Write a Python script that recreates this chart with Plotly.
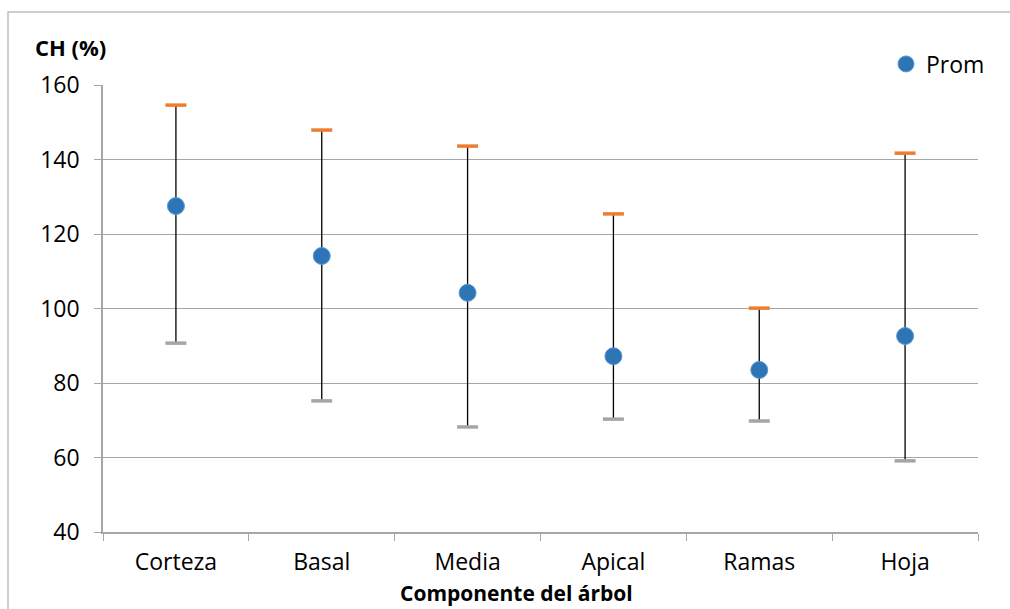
import plotly.graph_objects as go

categories = ["Corteza", "Basal", "Media", "Apical", "Ramas", "Hoja"]
prom = [127.5, 114.1, 104.2, 87.2, 83.5, 92.6]
maximo = [154.6, 147.9, 143.6, 125.4, 100.1, 141.7]
minimo = [90.7, 75.2, 68.2, 70.3, 69.8, 59.1]
y_ticks = [40, 60, 80, 100, 120, 140, 160]

FONT = "Open Sans"

fig = go.Figure()

# vertical range lines
lx, ly = [], []
for c, lo, hi in zip(categories, minimo, maximo):
    lx += [c, c, None]
    ly += [lo, hi, None]
fig.add_trace(go.Scatter(x=lx, y=ly, mode="lines", line=dict(color="black", width=1.3),
                         showlegend=False, hoverinfo="skip"))
fig.add_trace(go.Scatter(x=categories, y=maximo, mode="markers", showlegend=False,
                         marker=dict(symbol="line-ew", size=15, line=dict(color="#ED7D31", width=3.5))))
fig.add_trace(go.Scatter(x=categories, y=minimo, mode="markers", showlegend=False,
                         marker=dict(symbol="line-ew", size=15, line=dict(color="#A5A5A5", width=3.5))))
fig.add_trace(go.Scatter(x=categories, y=prom, mode="markers", name="Prom",
                         marker=dict(symbol="circle", size=17, color="#2E75B6",
                                     line=dict(color="#5B9BD5", width=1))))

L, R, T, B = 103, 32, 85, 77
W, H = 1010, 609
pw, ph = W - L - R, H - T - B

fig.update_layout(
    width=W, height=H,
    margin=dict(l=L, r=R, t=T, b=B),
    paper_bgcolor="white", plot_bgcolor="white",
    font=dict(family=FONT, size=23, color="black"),
    legend=dict(x=(886 - L) / pw, y=1 + (T - 64) / ph, xanchor="left", yanchor="middle",
                font=dict(size=23), bgcolor="rgba(0,0,0,0)", itemwidth=30,
                tracegroupgap=0),
    xaxis=dict(type="category", categoryorder="array", categoryarray=categories,
               range=[-0.5, 5.5], showgrid=False, showline=True, linecolor="#A6A6A6",
               linewidth=1.5, ticks="outside", tickson="boundaries", ticklen=7,
               tickcolor="#A6A6A6", tickfont=dict(size=23, family=FONT),
               ticklabelstandoff=9),
    yaxis=dict(range=[40, 160], tickvals=y_ticks, showgrid=True, gridcolor="#A6A6A6",
               gridwidth=1.2, showline=True, linecolor="#A6A6A6", linewidth=1.5,
               ticks="outside", ticklen=7, tickcolor="#A6A6A6",
               tickfont=dict(size=23, family=FONT), zeroline=False,
               ticklabelstandoff=10),
    annotations=[
        dict(text="<b>CH (%)</b>", xref="paper", yref="paper",
             x=(33 - L) / pw, y=1 + (T - 47) / ph, xanchor="left", yanchor="middle",
             showarrow=False, font=dict(size=22, family=FONT)),
        dict(text="<b>Componente del árbol</b>", xref="paper", yref="paper",
             x=(516 - L) / pw, y=-(593 - (H - B)) / ph, xanchor="center", yanchor="middle",
             showarrow=False, font=dict(size=21, family=FONT)),
    ],
    shapes=[
        dict(type="rect", xref="paper", yref="paper",
             x0=(8 - L) / pw, x1=(1015 - L) / pw, y0=-(620 - (H - B)) / ph, y1=1 + (T - 12) / ph,
             line=dict(color="#BFBFBF", width=1.5), layer="below"),
    ],
)

fig.write_html("out.html")
